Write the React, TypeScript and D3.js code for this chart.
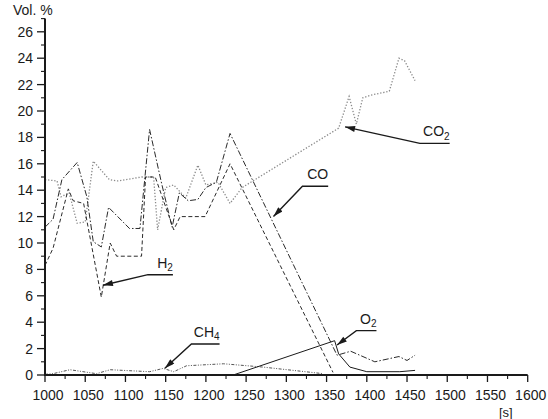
import React, { useEffect, useRef } from 'react';
import * as d3 from 'd3';

// [time s, vol %]
const CO2 = [
  [1000, 14.8], [1015, 14.7], [1020, 13.5], [1030, 13.8], [1040, 11.5], [1050, 11.6],
  [1060, 16.2], [1080, 14.8], [1090, 14.7], [1120, 15.0], [1135, 15.0], [1140, 11.0],
  [1150, 14.2], [1160, 14.4], [1175, 13.4], [1190, 15.9], [1200, 14.4], [1215, 14.6],
  [1230, 13.0], [1245, 14.2], [1365, 18.7], [1378, 21.1], [1387, 19.0], [1395, 21.0],
  [1405, 21.2], [1428, 21.5], [1440, 24.0], [1447, 23.8], [1460, 22.3],
];
const CO = [
  [1000, 11.2], [1010, 11.8], [1021, 14.8], [1040, 16.1], [1052, 13.5], [1060, 10.1],
  [1070, 9.7], [1079, 12.7], [1105, 11.1], [1118, 11.1], [1130, 18.6], [1145, 14.5],
  [1158, 11.2], [1167, 13.8], [1178, 13.2], [1190, 13.3], [1200, 14.2], [1213, 14.6],
  [1230, 18.3], [1363, 1.5], [1380, 1.8], [1410, 1.0], [1440, 1.4], [1450, 1.1], [1460, 1.5],
];
const H2 = [
  [1000, 8.3], [1010, 9.6], [1029, 14.1], [1035, 13.2], [1048, 13.0], [1070, 5.9],
  [1081, 10.0], [1089, 9.0], [1120, 9.0], [1125, 15.0], [1137, 15.0], [1160, 11.0],
  [1168, 12.0], [1199, 12.0], [1230, 16.0], [1358, 0.2],
];
const CH4 = [
  [1000, 0.05], [1010, 0.1], [1031, 0.4], [1064, 0.1], [1081, 0.4], [1130, 0.25],
  [1147, 0.5], [1160, 0.25], [1176, 0.7], [1222, 0.85], [1271, 0.6], [1346, 0.1],
];
const O2 = [
  [1000, 0], [1234, 0], [1360, 2.6], [1365, 1.6], [1379, 0.6], [1400, 0.25],
  [1441, 0.25], [1460, 0.35],
];

const xTicks = d3.range(1000, 1601, 50);
const xMinor = d3.range(1025, 1600, 50);
const yTicks = d3.range(0, 27, 2);
const yMinor = d3.range(1, 28, 2);

// callouts: arrow tip, elbow, end of underline (time), label + subscript
const callouts = [
  { name: 'H', sub: '2', tip: [1072, 6.8], elbow: [1128, 7.6], end: 1159 },
  { name: 'CO', sub: '', tip: [1284, 12.0], elbow: [1320, 14.3], end: 1352 },
  { name: 'CO', sub: '2', tip: [1373, 18.8], elbow: [1466, 17.55], end: 1503 },
  { name: 'O', sub: '2', tip: [1363, 2.27], elbow: [1387, 3.36], end: 1412 },
  { name: 'CH', sub: '4', tip: [1149, 0.51], elbow: [1182, 2.35], end: 1217 },
];

const App: React.FC = () => {
  const ref = useRef<SVGSVGElement>(null);

  useEffect(() => {
    if (!ref.current) return;
    const svg = d3.select(ref.current);
    svg.selectAll('*').remove();

    const x = d3.scaleLinear().domain([1000, 1600]).range([45, 527.7]);
    const y = d3.scaleLinear().domain([0, 26]).range([375, 31.8]);
    const font = 'Liberation Sans, Arial, sans-serif';
    const ink = '#1a1a1a';

    svg.append('defs').append('marker')
      .attr('id', 'arr')
      .attr('markerUnits', 'userSpaceOnUse')
      .attr('viewBox', '0 0 10 6')
      .attr('refX', 10).attr('refY', 3)
      .attr('markerWidth', 11).attr('markerHeight', 6)
      .attr('orient', 'auto')
      .append('path').attr('d', 'M0,0 L10,3 L0,6 Z').attr('fill', ink);

    const line = d3.line<number[]>().x(d => x(d[0])).y(d => y(d[1]));

    const series = [
      { data: CO2, color: '#8a8a8a', dash: '1.3,1.8', w: 1.3 },
      { data: CH4, color: '#555', dash: '3,1.5,1,1.5,1,1.5', w: 1 },
      { data: H2, color: '#2a2a2a', dash: '4,2.5', w: 1 },
      { data: CO, color: '#2a2a2a', dash: '6,2,1.5,2', w: 1 },
      { data: O2, color: ink, dash: null, w: 1 },
    ];
    series.forEach(s => {
      svg.append('path')
        .attr('d', line(s.data as number[][]))
        .attr('fill', 'none')
        .attr('stroke', s.color)
        .attr('stroke-width', s.w)
        .attr('stroke-dasharray', s.dash);
    });

    // axes
    const ax = svg.append('g').attr('stroke', ink);
    ax.append('line').attr('x1', x(1000)).attr('x2', x(1600)).attr('y1', y(0)).attr('y2', y(0)).attr('stroke-width', 2);
    ax.append('line').attr('x1', x(1000)).attr('x2', x(1000)).attr('y1', y(0) + 1).attr('y2', y(27)).attr('stroke-width', 2);
    xTicks.forEach(t => ax.append('line').attr('x1', x(t)).attr('x2', x(t)).attr('y1', y(0)).attr('y2', y(0) + 7).attr('stroke-width', 1.3));
    xMinor.forEach(t => ax.append('line').attr('x1', x(t)).attr('x2', x(t)).attr('y1', y(0)).attr('y2', y(0) + 4).attr('stroke-width', 1.1));
    yTicks.forEach(v => ax.append('line').attr('x1', x(1000) - 8).attr('x2', x(1000)).attr('y1', y(v)).attr('y2', y(v)).attr('stroke-width', 1.3));
    yMinor.forEach(v => ax.append('line').attr('x1', x(1000) - 4).attr('x2', x(1000)).attr('y1', y(v)).attr('y2', y(v)).attr('stroke-width', 1.1));

    const txt = svg.append('g').attr('font-family', font).attr('font-size', 14).attr('fill', ink);
    xTicks.forEach(t => txt.append('text').attr('x', x(t) + 3).attr('y', 400).attr('text-anchor', 'middle').text(t));
    yTicks.forEach(v => txt.append('text').attr('x', 33).attr('y', y(v)).attr('dy', '0.36em').attr('text-anchor', 'end').text(v));
    txt.append('text').attr('x', 13).attr('y', 15).text('Vol. %');
    txt.append('text').attr('x', 499).attr('y', 417).attr('font-size', 13).text('[s]');

    // callouts
    callouts.forEach(c => {
      const ex = x(c.end);
      const ey = y(c.elbow[1]);
      svg.append('path')
        .attr('d', `M${ex},${ey} L${x(c.elbow[0])},${ey} L${x(c.tip[0])},${y(c.tip[1])}`)
        .attr('fill', 'none').attr('stroke', ink).attr('stroke-width', 1.4)
        .attr('marker-end', 'url(#arr)');
      const t = txt.append('text').attr('x', ex).attr('y', ey - 7).attr('text-anchor', 'end');
      t.append('tspan').text(c.name);
      if (c.sub) t.append('tspan').attr('font-size', 10).attr('dy', 3.5).text(c.sub);
    });
  }, []);

  return (
    <div style={{ position: 'absolute', left: 0, top: 0 }}>
      <svg ref={ref} width={548} height={419} style={{ display: 'block', background: '#fff' }} />
    </div>
  );
};

export default App;
